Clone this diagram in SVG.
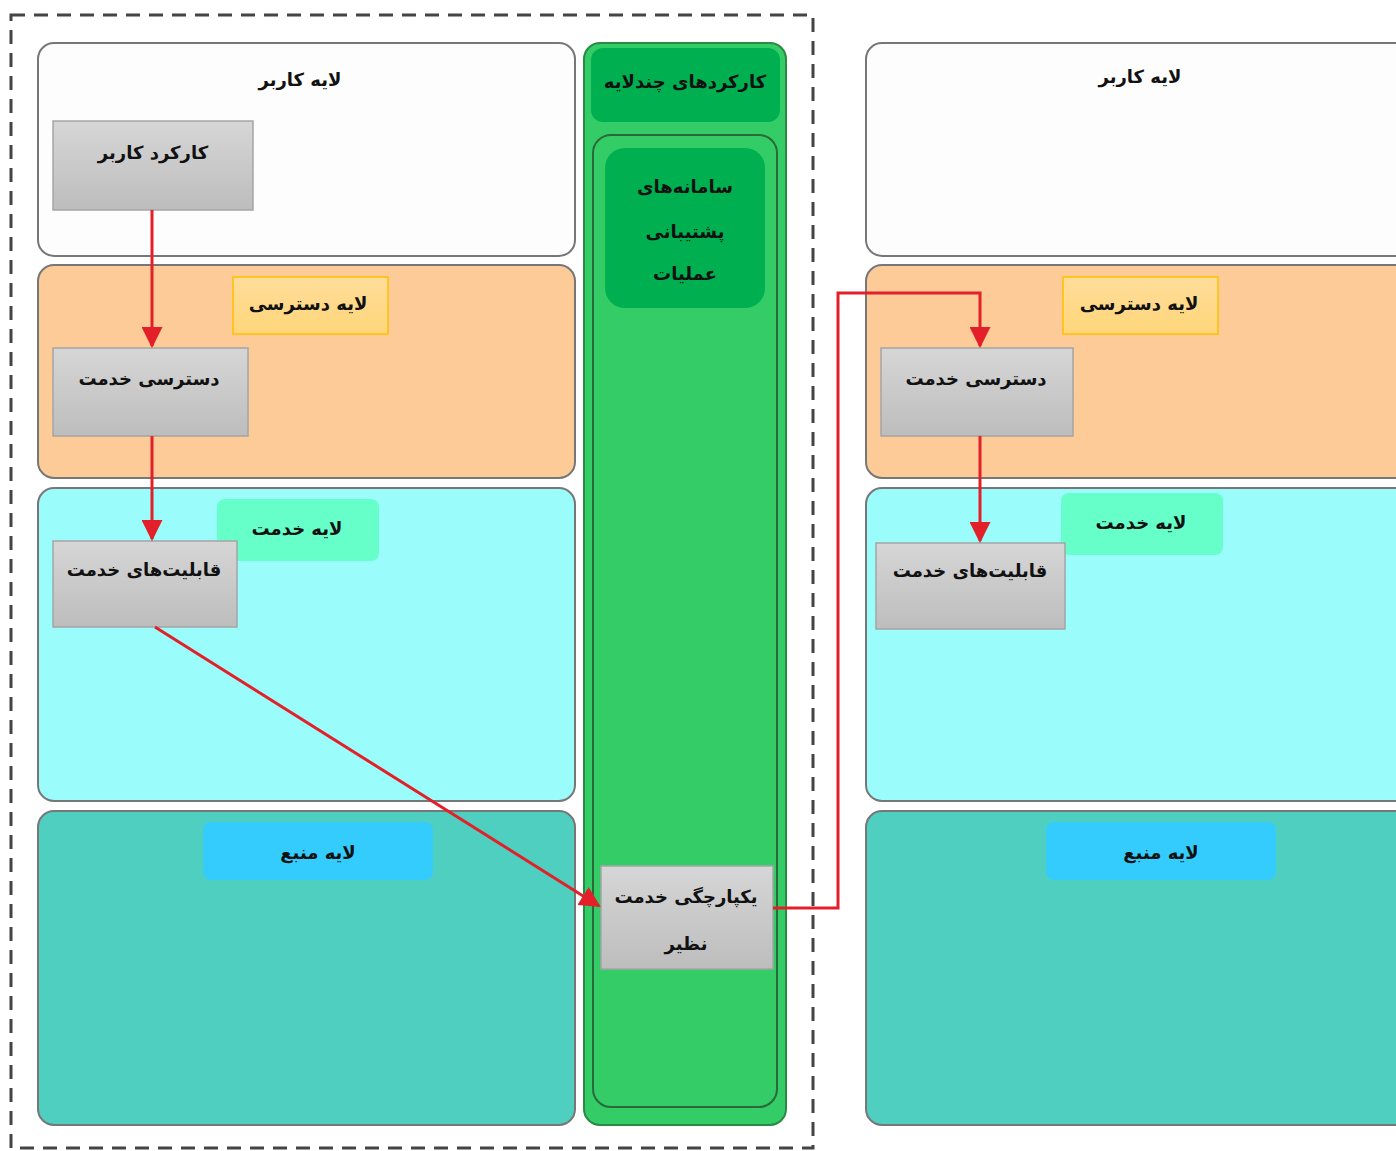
<svg xmlns="http://www.w3.org/2000/svg" width="1396" height="1151" viewBox="0 0 1396 1151">
<defs>
<linearGradient id="gray" x1="0" y1="0" x2="0" y2="1"><stop offset="0" stop-color="#d6d6d6"/><stop offset="1" stop-color="#bdbdbd"/></linearGradient>
<linearGradient id="yel" x1="0" y1="0" x2="0" y2="1"><stop offset="0" stop-color="#ffdd9a"/><stop offset="1" stop-color="#ffd67a"/></linearGradient>
<marker id="arr" viewBox="0 0 10 10" refX="9" refY="5" markerWidth="7" markerHeight="7" orient="auto" markerUnits="strokeWidth"><path d="M0,0 L10,5 L0,10 z" fill="#e3202a"/></marker>
<style>
text{font-family:"DejaVu Sans","Liberation Sans",sans-serif;font-weight:bold;font-size:18px;fill:#111;text-anchor:middle;dominant-baseline:middle}
.lay{stroke:#777;stroke-width:2}
.user{fill:#fdfdfd}
.acc{fill:#fdcb97}
.srv{fill:#9afcfb}
.res{fill:#4fcfbf}
.node{fill:url(#gray);stroke:#a5a5a5;stroke-width:1.5}
.lblacc{fill:url(#yel);stroke:#ffc000;stroke-width:1.5}
.lblsrv{fill:#66ffc9}
.lblres{fill:#33ccfd}
.conn{fill:none;stroke:#e3202a;stroke-width:3}
</style>
</defs>
<rect x="0" y="0" width="1396" height="1151" fill="#ffffff"/>
<rect id="boundary" x="11" y="15" width="802" height="1133" fill="none" stroke="#444" stroke-width="3" stroke-dasharray="14,9"/>

<g id="left-user-layer"><rect class="lay user" x="38" y="43" width="537" height="213" rx="16"/><text x="300" y="81">لایه کاربر</text></g>
<g id="left-access-layer"><rect class="lay acc" x="38" y="265" width="537" height="213" rx="16"/><rect class="lblacc" x="233" y="277" width="155" height="57"/><text x="308" y="305">لایه دسترسی</text></g>
<g id="left-service-layer"><rect class="lay srv" x="38" y="488" width="537" height="313" rx="16"/><rect class="lblsrv" x="217" y="499" width="162" height="62" rx="8"/><text x="297" y="530">لایه خدمت</text></g>
<g id="left-resource-layer"><rect class="lay res" x="38" y="811" width="537" height="314" rx="16"/><rect class="lblres" x="203" y="822" width="230" height="58" rx="8"/><text x="318" y="854">لایه منبع</text></g>

<g id="multi-layer">
<rect x="584" y="43" width="202" height="1082" rx="16" fill="#33cc66" stroke="#2a8a45" stroke-width="2"/>
<rect x="591" y="48" width="189" height="74" rx="12" fill="#00b050"/>
<text x="685" y="83">کارکردهای چندلایه</text>
<rect x="593" y="135" width="184" height="972" rx="18" fill="#33cc66" stroke="#2a6a3a" stroke-width="2"/>
</g>
<g id="oss"><rect x="605" y="148" width="160" height="160" rx="20" fill="#00b050"/><text x="685" y="188">سامانه‌های</text><text x="685" y="233">پشتیبانی</text><text x="685" y="275">عملیات</text></g>

<g id="right-user-layer"><rect class="lay user" x="866" y="43" width="545" height="213" rx="16"/><text x="1140" y="78">لایه کاربر</text></g>
<g id="right-access-layer"><rect class="lay acc" x="866" y="265" width="545" height="213" rx="16"/><rect class="lblacc" x="1063" y="277" width="155" height="57"/><text x="1139" y="305">لایه دسترسی</text></g>
<g id="right-service-layer"><rect class="lay srv" x="866" y="488" width="545" height="313" rx="16"/><rect class="lblsrv" x="1061" y="493" width="162" height="62" rx="8"/><text x="1141" y="524">لایه خدمت</text></g>
<g id="right-resource-layer"><rect class="lay res" x="866" y="811" width="545" height="314" rx="16"/><rect class="lblres" x="1046" y="822" width="230" height="58" rx="8"/><text x="1161" y="854">لایه منبع</text></g>

<g id="user-function"><rect class="node" x="53" y="121" width="200" height="89"/><text x="153" y="154">کارکرد کاربر</text></g>
<g id="service-access-left"><rect class="node" x="53" y="348" width="195" height="88"/><text x="149" y="380">دسترسی خدمت</text></g>
<g id="service-capabilities-left"><rect class="node" x="53" y="541" width="184" height="86"/><text x="144" y="571">قابلیت‌های خدمت</text></g>
<g id="peer-integration"><rect class="node" x="601" y="866" width="172" height="103"/><text x="686" y="898">یکپارچگی خدمت</text><text x="686" y="945">نظیر</text></g>
<g id="service-access-right"><rect class="node" x="881" y="348" width="192" height="88"/><text x="976" y="380">دسترسی خدمت</text></g>
<g id="service-capabilities-right"><rect class="node" x="876" y="543" width="189" height="86"/><text x="970" y="572">قابلیت‌های خدمت</text></g>

<g id="connectors">
<path class="conn" d="M152,210 V346" marker-end="url(#arr)"/>
<path class="conn" d="M152,436 V539" marker-end="url(#arr)"/>
<path class="conn" d="M155,627 L599,906" marker-end="url(#arr)"/>
<path class="conn" d="M773,908 H838 V293 H980 V346" marker-end="url(#arr)"/>
<path class="conn" d="M980,436 V541" marker-end="url(#arr)"/>
</g>
</svg>
